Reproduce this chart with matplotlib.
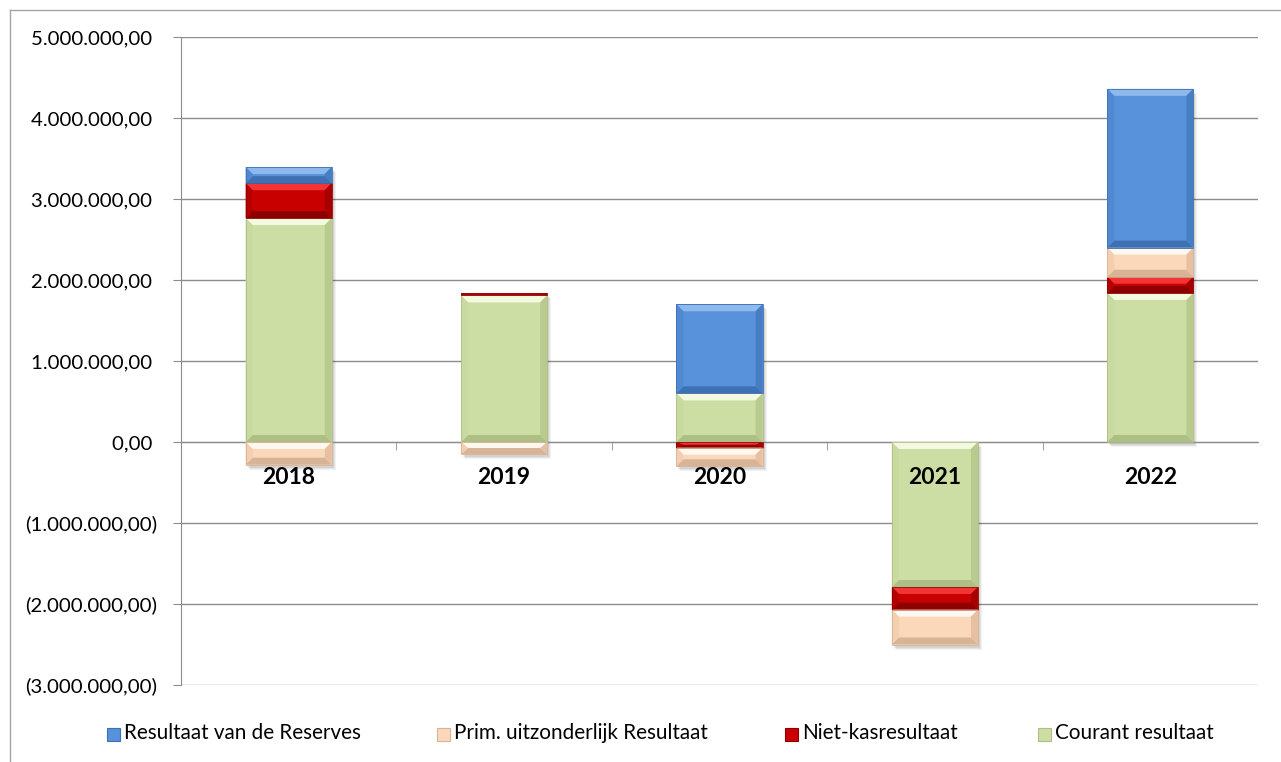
import numpy as np
import matplotlib
matplotlib.use('Agg')
import matplotlib.pyplot as plt
from matplotlib.patches import Polygon, Rectangle
from matplotlib.transforms import IdentityTransform
from matplotlib.lines import Line2D
from matplotlib.ticker import FuncFormatter, FixedLocator

# ---------------- data ----------------
years = ['2018', '2019', '2020', '2021', '2022']
courant = [2765000, 1810000, 600000, -1790000, 1840000]
niet_kas = [430000, 25000, -70000, -280000, 200000]
prim = [-280000, -150000, -230000, -430000, 360000]
reserves = [200000, 0, 1100000, 0, 1960000]

series_names = ['Courant resultaat', 'Niet-kasresultaat',
                'Prim. uitzonderlijk Resultaat', 'Resultaat van de Reserves']
series_values = [courant, niet_kas, prim, reserves]
legend_order = ['Resultaat van de Reserves', 'Prim. uitzonderlijk Resultaat',
                'Niet-kasresultaat', 'Courant resultaat']
y_ticks = [-3e6, -2e6, -1e6, 0, 1e6, 2e6, 3e6, 4e6, 5e6]

# ---------------- style ----------------
# base, top, bottom, left, right
palette = {
    'Courant resultaat': ('#CDDEA5', '#F4FADF', '#AEBF86', '#C8DA9F', '#B8CA8E'),
    'Niet-kasresultaat': ('#C80000', '#F23434', '#8E0000', '#B50000', '#A60000'),
    'Prim. uitzonderlijk Resultaat': ('#FCD8BA', '#FFF8F0', '#D8B496', '#F3CEAF', '#E6C0A1'),
    'Resultaat van de Reserves': ('#5792DA', '#8DB9EC', '#3E70B4', '#5089D2', '#477DC2'),
}

plt.rcParams['font.family'] = ['Lato', 'DejaVu Sans']

W, H = 1281, 762
fig = plt.figure(figsize=(W / 100, H / 100), dpi=100)
ax = fig.add_axes([181 / W, (H - 685) / H, (1258 - 181) / W, (685 - 37) / H])
ax.set_xlim(-0.5, 4.5)
ax.set_ylim(-3e6, 5e6)

x = np.arange(len(years))
pos_base = np.zeros(len(years))
neg_base = np.zeros(len(years))
bar_patches = []
for name, vals in zip(series_names, series_values):
    v = np.array(vals, dtype=float)
    bottoms = np.where(v >= 0, pos_base, neg_base)
    cont = ax.bar(x, v, 0.4, bottom=bottoms, color=palette[name][0],
                  linewidth=0, zorder=3)
    for p, val in zip(cont.patches, v):
        if val != 0:
            bar_patches.append((p, name))
    pos_base = pos_base + np.where(v > 0, v, 0)
    neg_base = neg_base + np.where(v < 0, v, 0)

# bevel overlays in display pixels
ident = IdentityTransform()
for p, name in bar_patches:
    bb = p.get_bbox()
    (x0, y0), (x1, y1) = ax.transData.transform([[bb.x0, min(bb.y0, bb.y1)],
                                                  [bb.x1, max(bb.y0, bb.y1)]])
    h = y1 - y0
    bv = min(7.0, h / 2.0)
    bx = min(7.0, (x1 - x0) / 2)
    _, top, bot, left, right = palette[name]
    # soft shadow
    for k, a in ((5, 0.05), (4, 0.06), (3, 0.07)):
        ax.add_patch(Rectangle((x0 + k - 1, y0 - k), x1 - x0, h, transform=ident,
                               facecolor='#000000', alpha=a, lw=0, zorder=2.5))
    polys = [
        ([(x0, y1), (x1, y1), (x1 - bx, y1 - bv), (x0 + bx, y1 - bv)], top),
        ([(x0, y0), (x1, y0), (x1 - bx, y0 + bv), (x0 + bx, y0 + bv)], bot),
        ([(x0, y0), (x0, y1), (x0 + bx, y1 - bv), (x0 + bx, y0 + bv)], left),
        ([(x1, y0), (x1, y1), (x1 - bx, y1 - bv), (x1 - bx, y0 + bv)], right),
    ]
    for pts, col in polys:
        ax.add_patch(Polygon(pts, closed=True, transform=ident, facecolor=col,
                             lw=0, zorder=4))
    ax.add_patch(Rectangle((x0, y0), x1 - x0, h, transform=ident, facecolor='none',
                           edgecolor=bot, lw=0.6, zorder=4.5))


# ---------------- axes ----------------
def fmt(v, pos):
    s = f"{abs(v):,.2f}".replace(',', 'X').replace('.', ',').replace('X', '.')
    return f"({s})" if v < 0 else s + ' '


ax.yaxis.set_major_locator(FixedLocator(y_ticks))
ax.yaxis.set_major_formatter(FuncFormatter(fmt))
ax.yaxis.grid(True, color='#8C8C8C', lw=1)
ax.set_axisbelow(True)
for s in ['top', 'right']:
    ax.spines[s].set_visible(False)
ax.spines['left'].set_color('#8C8C8C')
ax.spines['bottom'].set_color('#8C8C8C')
ax.spines['bottom'].set_position(('data', 0))
ax.tick_params(axis='y', length=6, color='#8C8C8C', labelsize=14.7, pad=11,
               labelcolor='black')
ax.set_xticks(x)
ax.set_xticklabels([])
ax.set_xticks([0.5, 1.5, 2.5, 3.5], minor=True)
ax.tick_params(axis='x', which='major', length=0)
ax.tick_params(axis='x', which='minor', length=6, color='#8C8C8C')
for xi, yr in zip(x, years):
    ax.annotate(yr, (xi, 0), xytext=(0, -35), textcoords='offset pixels',
                ha='center', va='center', fontsize=16.5, fontweight='bold',
                zorder=6)

# ---------------- legend ----------------
leg_x = {'Resultaat van de Reserves': 107, 'Prim. uitzonderlijk Resultaat': 437,
         'Niet-kasresultaat': 785, 'Courant resultaat': 1038}
for name in legend_order:
    px = leg_x[name]
    fig.add_artist(Rectangle((px / W, (H - 741) / H), 13 / W, 13 / H,
                             transform=fig.transFigure,
                             facecolor=palette[name][0],
                             edgecolor=palette[name][2], lw=0.8))
    fig.text((px + 17) / W, (H - 733) / H, name, fontsize=14.9, va='center',
             ha='left')

# chart border (partially visible)
fig.add_artist(Line2D([10 / W, 10 / W], [0, (H - 10) / H], transform=fig.transFigure,
                      color='#A6A6A6', lw=1))
fig.add_artist(Line2D([10 / W, 1], [(H - 10) / H, (H - 10) / H],
                      transform=fig.transFigure, color='#A6A6A6', lw=1))

fig.savefig('out.png', dpi=100)
